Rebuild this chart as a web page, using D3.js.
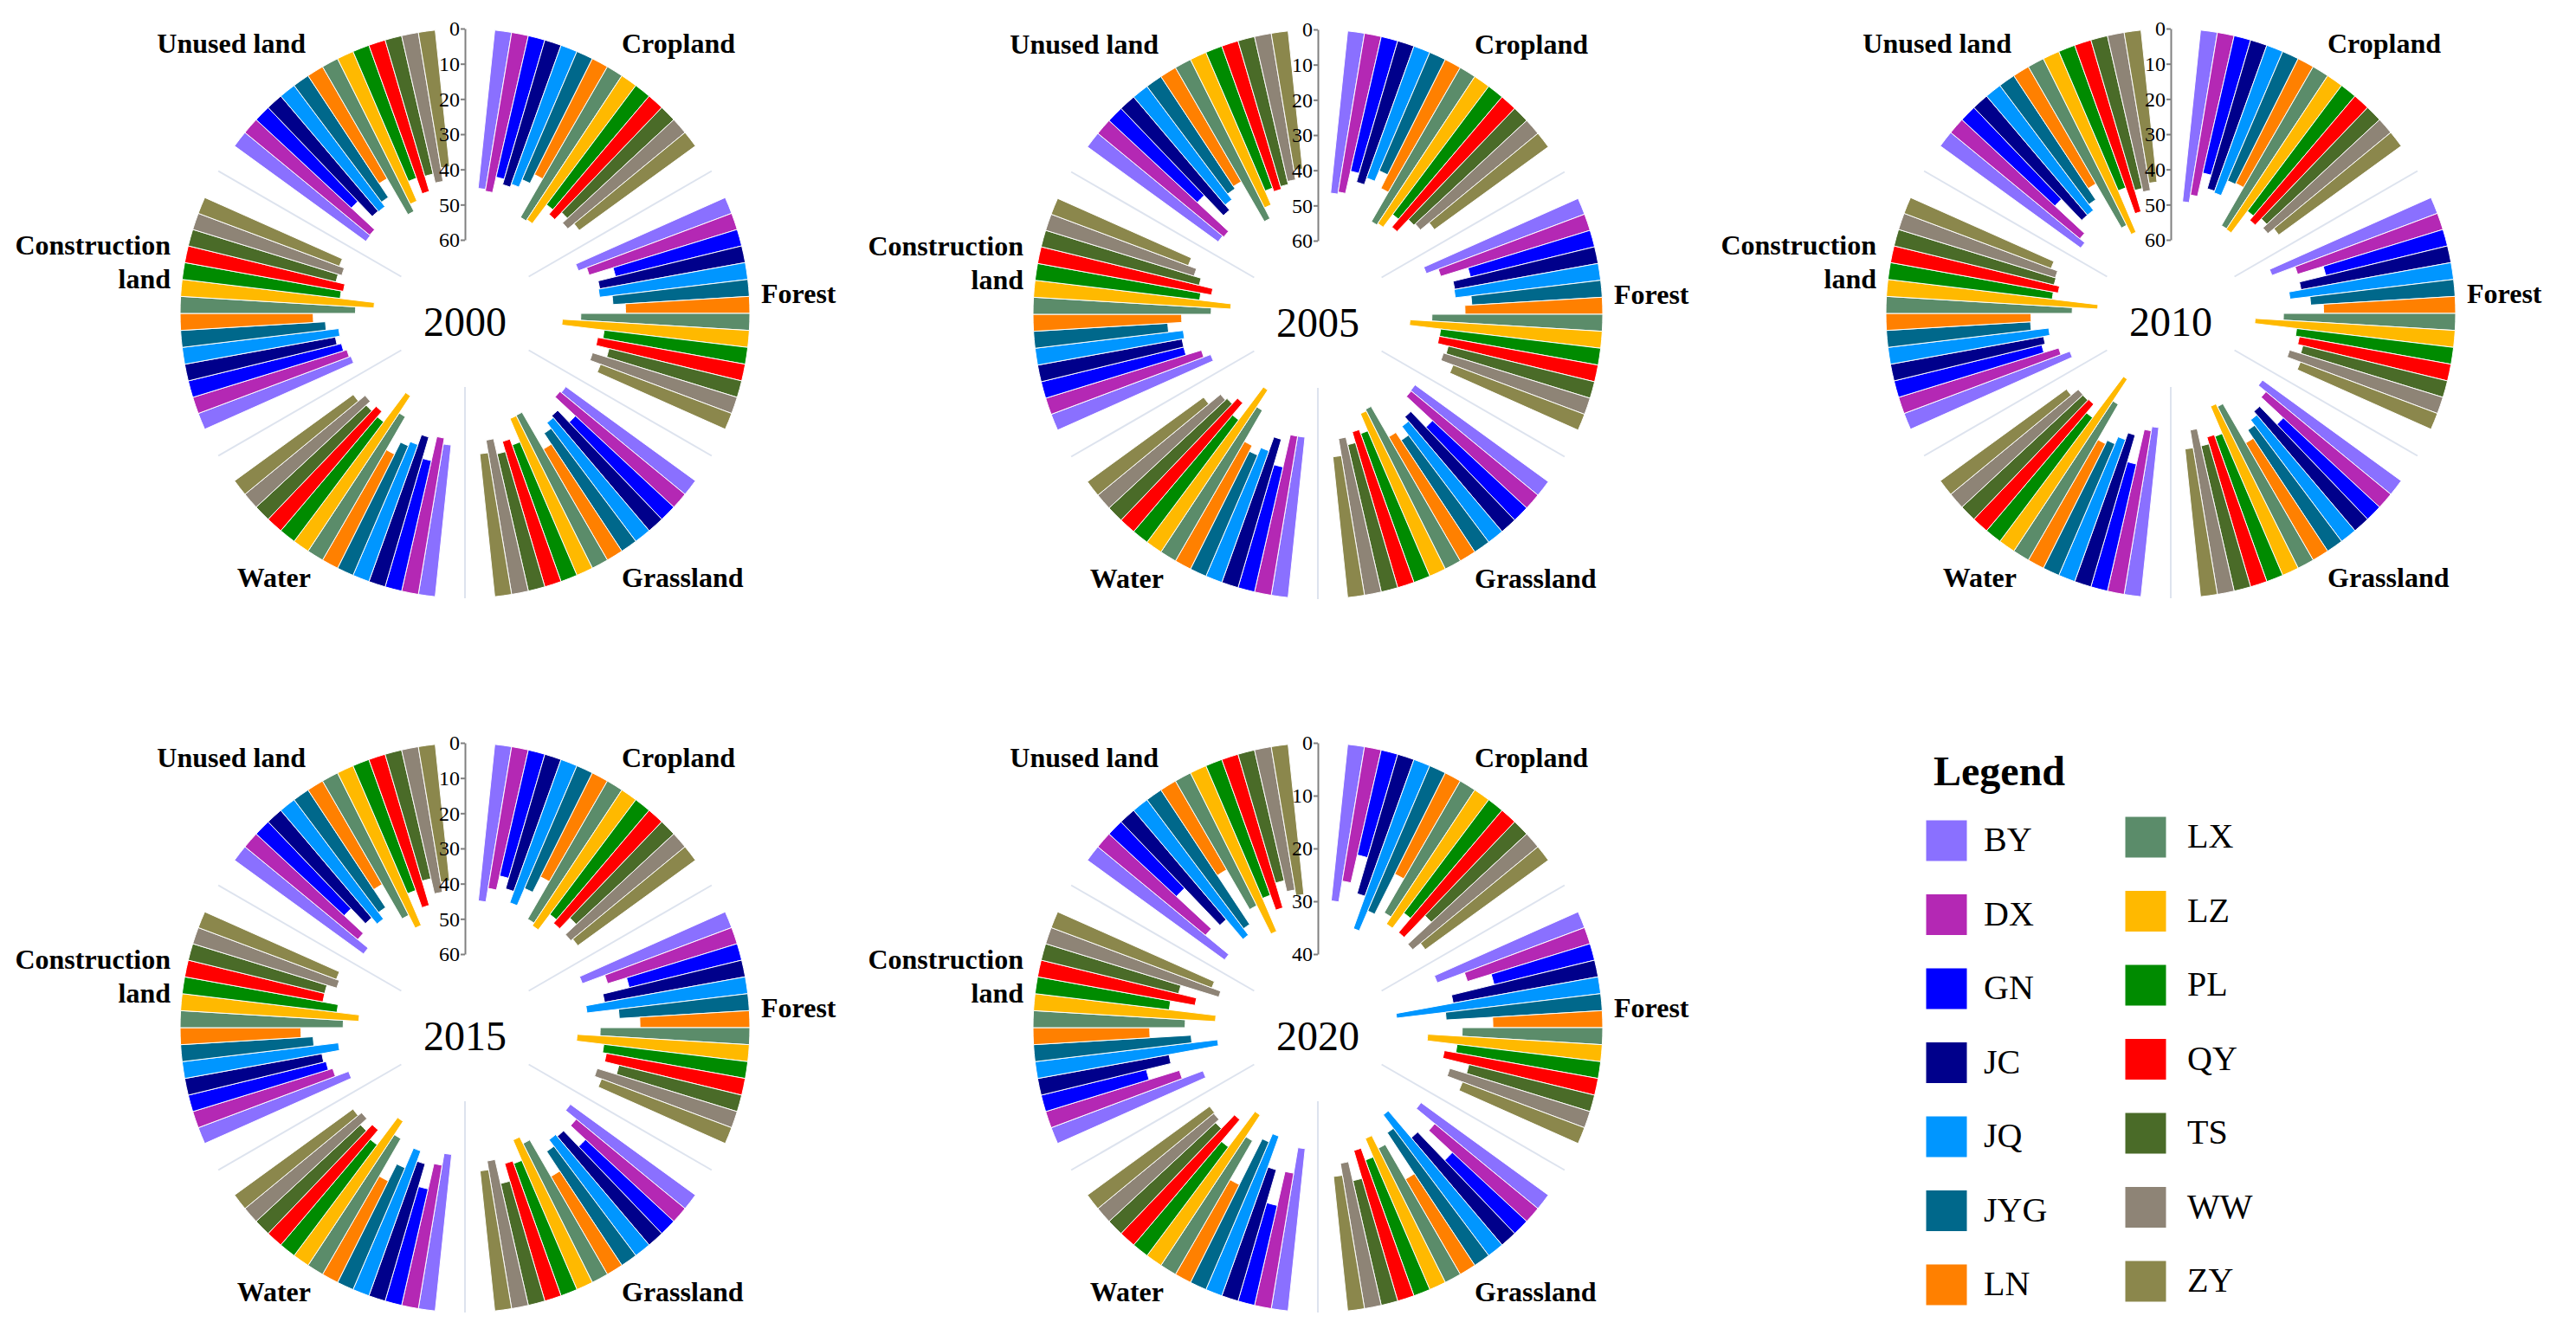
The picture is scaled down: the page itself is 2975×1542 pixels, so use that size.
<!DOCTYPE html>
<meta charset="utf-8">
<html>
<head>
<title>Radial land use bars</title>
<script src="https://d3js.org/d3.v7.min.js"></script>
<style>
    body { margin: 0; background: #fff; }
    text { font-family: "Liberation Serif", "Times New Roman", serif; }
</style>
</head>
<body>
<div class="chart"></div>
<script>
// categories
var years = ["2000", "2005", "2010", "2015", "2020"];
var landTypes = ["Cropland", "Forest", "Grassland", "Water", "Construction land", "Unused land"];
var districts = ["BY", "DX", "GN", "JC", "JQ", "JYG", "LN", "LX", "LZ", "PL", "QY", "TS", "WW", "ZY"];
var colors = ["#8a70ff", "#b428b4", "#0000ff", "#00008b", "#0096ff", "#00688b", "#ff8000",
              "#5b8c6a", "#ffb900", "#008b00", "#ff0000", "#4a6b28", "#8e8476", "#8b874c"];

// radial axis per year
var axisMax = [60, 60, 60, 60, 40];
var tickLabels = [
    [0, 10, 20, 30, 40, 50, 60],
    [0, 10, 20, 30, 40, 50, 60],
    [0, 10, 20, 30, 40, 50, 60],
    [0, 10, 20, 30, 40, 50, 60],
    [0, 10, 20, 30, 40]
];

// values: one row per land type, one column per district
var v2000 = [
    [45.2, 45.7, 41.2, 42.8, 41.9, 39.6, 36.8, 49.4, 49.0, 42.3, 44.0, 41.2, 43.1, 40.8],
    [46.5, 44.0, 36.9, 42.0, 42.4, 38.8, 35.3, 48.0, 53.2, 41.1, 42.6, 38.8, 43.0, 39.8],
    [45.5, 46.0, 38.1, 42.8, 42.1, 40.1, 36.4, 48.5, 48.4, 41.2, 43.0, 40.0, 44.4, 40.8],
    [43.3, 45.0, 38.0, 44.3, 41.3, 40.0, 36.2, 47.0, 52.8, 42.4, 44.4, 42.6, 44.2, 41.7],
    [46.3, 45.8, 44.8, 43.5, 44.8, 41.2, 37.8, 49.8, 55.0, 45.2, 45.8, 43.2, 44.3, 42.8],
    [46.1, 45.9, 36.9, 42.8, 43.0, 41.4, 36.7, 48.5, 46.2, 40.1, 44.8, 40.3, 42.9, 39.0]
];
var v2005 = [
    [46.3, 45.7, 39.2, 41.8, 39.8, 36.6, 40.9, 50.5, 50.0, 45.5, 48.4, 43.7, 43.2, 40.0],
    [48.0, 44.4, 36.3, 41.4, 41.6, 37.1, 39.1, 48.5, 54.7, 45.8, 45.9, 42.8, 43.6, 39.9],
    [46.8, 46.6, 36.5, 42.7, 41.1, 38.0, 40.7, 50.7, 50.2, 44.9, 46.1, 42.9, 45.1, 40.2],
    [45.8, 45.8, 36.4, 43.9, 39.7, 37.4, 39.2, 49.4, 55.1, 43.4, 47.9, 45.7, 45.1, 40.8],
    [48.4, 46.3, 41.7, 41.7, 42.4, 38.2, 42.2, 50.6, 56.1, 47.1, 50.2, 46.2, 44.1, 41.6],
    [45.9, 46.3, 34.2, 42.1, 40.2, 38.2, 37.4, 50.5, 47.1, 42.8, 43.9, 43.1, 42.2, 39.4]
];
var v2010 = [
    [49.0, 46.8, 40.0, 44.0, 44.5, 39.9, 39.6, 52.1, 52.3, 44.6, 46.2, 43.7, 45.2, 43.0],
    [50.2, 43.2, 35.6, 43.3, 46.8, 41.1, 37.5, 48.9, 56.9, 44.9, 43.8, 42.3, 45.6, 41.6],
    [48.7, 45.9, 37.3, 44.4, 43.1, 41.2, 38.4, 51.3, 52.2, 43.8, 44.3, 42.3, 47.3, 42.2],
    [48.3, 47.1, 37.0, 44.9, 42.8, 40.6, 39.5, 51.1, 58.5, 43.9, 47.1, 46.8, 46.9, 44.3],
    [50.3, 47.6, 43.2, 44.2, 46.0, 41.0, 41.2, 52.9, 60.1, 47.0, 48.4, 46.8, 46.6, 44.6],
    [49.3, 47.5, 36.0, 44.3, 44.3, 42.2, 38.4, 52.9, 55.8, 43.0, 50.8, 44.5, 45.5, 43.4]
];
var v2015 = [
    [44.7, 40.8, 36.7, 39.8, 43.2, 37.9, 33.0, 45.3, 46.2, 40.7, 42.0, 37.8, 42.0, 41.3],
    [45.3, 38.5, 32.9, 40.6, 46.0, 37.0, 31.2, 42.5, 49.0, 41.2, 40.1, 35.9, 41.6, 39.5],
    [43.9, 40.0, 34.2, 40.4, 41.1, 38.8, 32.1, 44.1, 46.2, 39.9, 40.7, 35.5, 42.5, 40.0],
    [44.7, 41.3, 33.9, 40.6, 43.7, 37.6, 32.2, 44.5, 49.0, 39.3, 42.8, 40.4, 42.9, 41.6],
    [45.6, 41.6, 40.3, 39.6, 44.7, 37.7, 34.3, 46.3, 50.7, 44.3, 39.9, 39.9, 42.8, 41.9],
    [45.3, 41.5, 34.1, 40.0, 42.3, 40.0, 33.9, 45.2, 49.3, 39.5, 44.7, 37.5, 41.9, 39.0]
];
var v2020 = [
    [29.8, 25.8, 20.4, 27.5, 34.0, 29.9, 21.4, 28.8, 30.4, 26.8, 30.3, 24.6, 30.7, 28.8],
    [29.8, 24.3, 19.6, 27.9, 38.9, 29.6, 20.8, 26.6, 33.1, 27.4, 29.6, 24.5, 27.8, 24.7],
    [29.8, 25.3, 19.2, 26.6, 33.3, 30.1, 20.8, 28.4, 31.1, 27.3, 29.7, 24.2, 27.9, 25.6],
    [30.9, 26.0, 19.4, 25.9, 32.1, 30.4, 20.7, 29.2, 34.1, 25.7, 31.1, 27.5, 28.4, 28.6],
    [30.7, 26.5, 20.5, 25.3, 34.8, 29.9, 22.1, 28.8, 34.5, 25.6, 30.3, 26.8, 34.3, 32.5],
    [32.1, 26.4, 17.4, 27.1, 32.0, 30.5, 19.4, 28.1, 34.1, 27.3, 30.3, 25.4, 27.5, 28.6]
];
var allValues = [v2000, v2005, v2010, v2015, v2020];

// layout
var width = 2975, height = 1542;
var outerR = 329, innerR = 85;
var centers = [[537, 362], [1522, 363], [2507, 362], [537, 1187], [1522, 1187]];
// label anchor offsets from the chart center: [dx, dy, anchor]
var labelPos = {
    "Cropland": [181, -301, "start"],
    "Forest": [342, -12, "start"],
    "Grassland": [181, 316, "start"],
    "Water": [-178, 316, "end"],
    "Construction land": [-340, -68, "end"],
    "Unused land": [-184, -301, "end"]
};
var serif = "'Liberation Serif', 'Times New Roman', serif";

var svg = d3.select(".chart").append("svg")
    .attr("width", width)
    .attr("height", height);

var color = d3.scaleOrdinal().domain(districts).range(colors);

var groupAngle = d3.scaleBand().domain(landTypes)
    .range([0, 2 * Math.PI]).paddingInner(0.2).paddingOuter(0.1);
var barAngle = d3.scaleBand().domain(districts)
    .range([0, groupAngle.bandwidth()]);

years.forEach(function(year, k) {
    var g = svg.append("g")
        .attr("transform", "translate(" + centers[k][0] + "," + centers[k][1] + ")");

    var r = d3.scaleLinear().domain([0, axisMax[k]]).range([outerR, innerR]);

    var bars = [];
    landTypes.forEach(function(land, i) {
        districts.forEach(function(d, j) {
            bars.push({land: land, district: d, value: allValues[k][i][j]});
        });
    });

    // sector dividers
    g.selectAll(".divider")
        .data(d3.range(1, 6)).enter()
        .append("line")
        .attr("x1", function(d){ return innerR * Math.sin(d * Math.PI / 3); })
        .attr("y1", function(d){ return -innerR * Math.cos(d * Math.PI / 3); })
        .attr("x2", function(d){ return outerR * Math.sin(d * Math.PI / 3); })
        .attr("y2", function(d){ return -outerR * Math.cos(d * Math.PI / 3); })
        .style("stroke", "#dde3ee")
        .style("stroke-width", 2);

    var arc = d3.arc()
        .innerRadius(function(d){ return r(d.value); })
        .outerRadius(r(0))
        .startAngle(function(d){ return groupAngle(d.land) + barAngle(d.district); })
        .endAngle(function(d){ return groupAngle(d.land) + barAngle(d.district) + barAngle.bandwidth(); });

    g.selectAll(".bar")
        .data(bars).enter()
        .append("path")
        .attr("d", arc)
        .style("fill", function(d){ return color(d.district); })
        .style("stroke", "#fff")
        .style("stroke-width", 1);

    // radial axis on the 12 o'clock divider
    var y = d3.scaleLinear().domain([0, axisMax[k]]).range([-outerR, -innerR]);
    var ax = g.append("g")
        .attr("font-family", serif)
        .attr("font-size", 24)
        .call(d3.axisLeft(y).tickValues(tickLabels[k]).tickSizeInner(5).tickSizeOuter(0).tickPadding(1));
    ax.attr("font-family", serif).attr("font-size", 24);
    ax.select(".domain").style("stroke", "#808080").style("stroke-width", 2);
    ax.selectAll(".tick line").style("stroke", "#808080").style("stroke-width", 2);
    ax.selectAll(".tick text")
        .style("font-size", "24px")
        .style("font-family", serif)
        .style("fill", "#000");

    // land type labels
    landTypes.forEach(function(land) {
        var p = labelPos[land];
        var t = g.append("text")
            .attr("x", p[0])
            .attr("y", p[1])
            .style("text-anchor", p[2])
            .style("font-weight", "bold")
            .style("font-size", "32px");
        var words = land === "Construction land" ? ["Construction", "land"] : [land];
        words.forEach(function(w, i) {
            t.append("tspan").attr("x", p[0]).attr("dy", i === 0 ? 0 : 39).text(w);
        });
    });

    g.append("text")
        .attr("x", 0)
        .attr("y", 26)
        .style("text-anchor", "middle")
        .style("font-size", "48px")
        .text(year);
});

// legend
var legend = svg.append("g");
legend.append("text")
    .attr("x", 2233)
    .attr("y", 907)
    .style("font-weight", "bold")
    .style("font-size", "48px")
    .text("Legend");

var rowH = 85.5;
var item = legend.selectAll(".item")
    .data(districts).enter()
    .append("g")
    .attr("transform", function(d, i){
        var col = Math.floor(i / 7), row = i % 7;
        return "translate(" + (2224 + col * 230) + "," + (947 - col * 4 + row * rowH) + ")";
    });
item.append("rect")
    .attr("width", 48)
    .attr("height", 48)
    .style("fill", function(d){ return color(d); })
    .style("stroke", "#fff")
    .style("stroke-width", 1);
item.append("text")
    .attr("x", function(d, i){ return i < 7 ? 67 : 72; })
    .attr("y", 36)
    .style("font-size", "40px")
    .text(function(d){ return d; });
</script>
</body>
</html>
